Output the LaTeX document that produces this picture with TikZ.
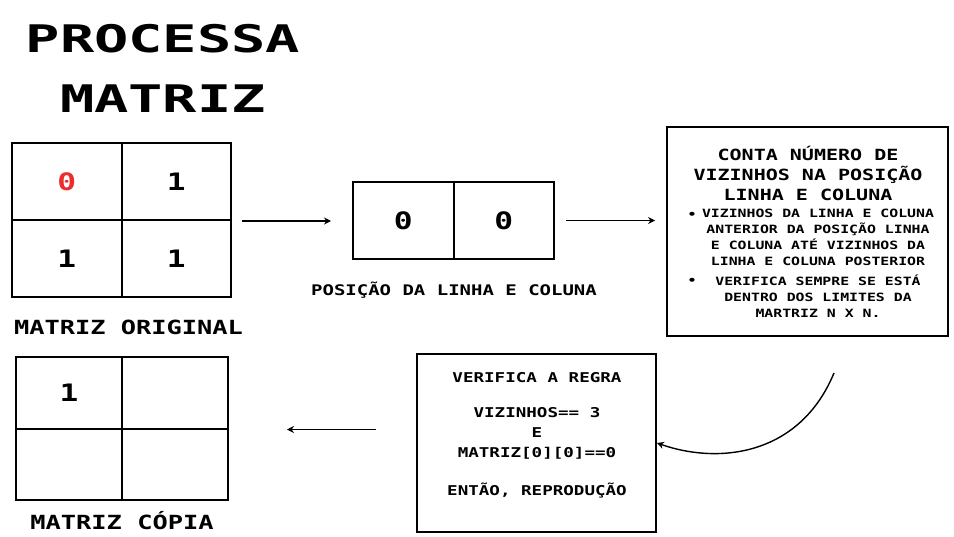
\documentclass[tikz,border=0pt]{standalone}
\usepackage{fontspec}
\usepackage{tikz}
\usetikzlibrary{arrows.meta, positioning, calc}
\newfontfamily\pixfont{DejaVu Sans Mono}[FakeStretch=1.3]
\newfontfamily\titlefont{DejaVu Sans Mono}[FakeStretch=1.5]
\definecolor{zeroRed}{RGB}{235,45,45}

\begin{document}
\begin{tikzpicture}[x=1pt, y=-1pt,
  cell/.style={draw, line width=2pt, minimum width=109.5pt, minimum height=77pt, inner sep=0pt,
    font=\pixfont\bfseries\fontsize{24}{24}\selectfont},
  panel/.style={draw, line width=1.8pt, inner sep=0pt},
  biglbl/.style={font=\pixfont\bfseries\fontsize{19.5}{22}\selectfont},
  flow/.style={-{Stealth[length=7pt, width=7pt]}, line width=1.4pt}
]
  \useasboundingbox (0,0) rectangle (954,536);

  % Title
  \node[font=\titlefont\bfseries\fontsize{38}{60}\selectfont, align=center] (title) at (163,68) {PROCESSA\\MATRIZ};

  % Original matrix
  \node[cell] (o11) at (66.75,181.5) {\textcolor{zeroRed}{0}};
  \node[cell] (o12) at (176.25,181.5) {1};
  \node[cell] (o21) at (66.75,258.5) {1};
  \node[cell] (o22) at (176.25,258.5) {1};
  \node[biglbl] (orig) at (128.5,327) {MATRIZ ORIGINAL};

  % Row / column position
  \node[cell, minimum width=100.5pt] (p1) at (403.25,220.5) {0};
  \node[cell, minimum width=100.5pt] (p2) at (503.75,220.5) {0};
  \node[font=\pixfont\bfseries\fontsize{14.6}{16}\selectfont] (pos) at (454,290) {POSIÇÃO DA LINHA E COLUNA};

  % Neighbour count
  \node[panel, minimum width=281pt, minimum height=209pt] (count) at (807.5,231.5) {};
  \node[font=\pixfont\bfseries\fontsize{15.4}{20}\selectfont, align=center] (counthead) at (808,173)
    {CONTA NÚMERO DE\\VIZINHOS NA POSIÇÃO\\LINHA E COLUNA};
  \node[font=\pixfont\bfseries\fontsize{11.4}{16}\selectfont] (dot1) at (692,215) {•};
  \node[font=\pixfont\bfseries\fontsize{11.4}{16}\selectfont, align=center] (item1) at (818,237)
    {VIZINHOS DA LINHA E COLUNA\\ANTERIOR DA POSIÇÃO LINHA\\E COLUNA ATÉ  VIZINHOS DA\\LINHA E COLUNA POSTERIOR};
  \node[font=\pixfont\bfseries\fontsize{11.4}{16}\selectfont] (dot2) at (692,281) {•};
  \node[font=\pixfont\bfseries\fontsize{11.4}{16}\selectfont, align=center] (item2) at (818,296)
    {VERIFICA SEMPRE SE ESTÁ\\DENTRO DOS LIMITES DA\\MARTRIZ N X N.};

  % Rule check
  \node[panel, minimum width=239pt, minimum height=178pt] (check) at (536.5,443) {};
  \node[font=\pixfont\bfseries\fontsize{13.5}{20}\selectfont, align=center] (checktxt) at (537,435)
    {VERIFICA A REGRA\\[15pt]VIZINHOS== 3\\E\\MATRIZ[0][0]==0\\[18pt]ENTÃO, REPRODUÇÃO};

  % Copy matrix
  \node[cell, minimum width=106pt, minimum height=71.5pt] (c11) at (69,392.75) {1};
  \node[cell, minimum width=106pt, minimum height=71.5pt] (c12) at (175,392.75) {};
  \node[cell, minimum width=106pt, minimum height=71.5pt] (c21) at (69,464.25) {};
  \node[cell, minimum width=106pt, minimum height=71.5pt] (c22) at (175,464.25) {};
  \node[biglbl] (copy) at (122,521) {MATRIZ CÓPIA};

  % Arrows
  \draw[flow, shorten <=10pt, shorten >=21pt] (o12.south east) -- (o12.south east -| p1.west);
  \draw[flow, shorten <=11pt, shorten >=11pt] (p2.east) -- (p2.east -| count.west);
  \coordinate (bendstart) at (834,373);
  \draw[flow] (bendstart) .. controls (800,455) and (720,465) .. (check.east);
  \draw[flow, shorten <=40pt, shorten >=58pt] (check.west |- c12.south east) -- (c12.south east);
\end{tikzpicture}
\end{document}
